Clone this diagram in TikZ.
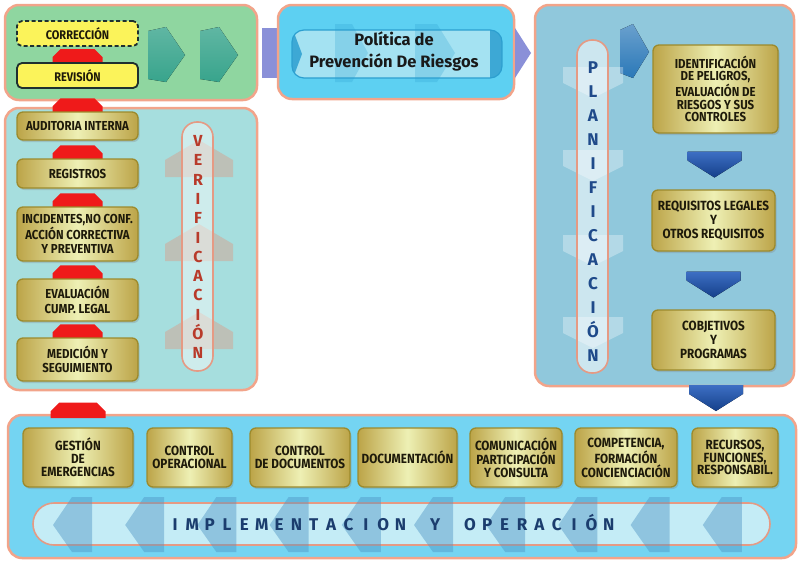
\documentclass[tikz,border=0pt]{standalone}
\usepackage{fontspec}
\setmainfont{Fira Sans}
\newfontfamily\cf[FakeStretch=0.88]{Fira Sans}
\usetikzlibrary{shadows,calc}
\pgfdeclarelayer{back}
\pgfdeclarelayer{arrows}
\pgfsetlayers{back,arrows,main}
\definecolor{pborder}{HTML}{F2A48A}
\definecolor{greenp}{HTML}{8FD6A0}
\definecolor{verp}{HTML}{A6DEDE}
\definecolor{plap}{HTML}{90C8DC}
\definecolor{polp}{HTML}{5DD0F2}
\definecolor{polpill}{HTML}{A4E2F2}
\definecolor{polin}{HTML}{2C9FD0}
\definecolor{impp}{HTML}{74D4F2}
\definecolor{imppill}{HTML}{C4ECF6}
\definecolor{purp}{HTML}{8A90D8}
\definecolor{gold1}{HTML}{BCA448}
\definecolor{gold2}{HTML}{EEF0B4}
\definecolor{goldedge}{HTML}{9C8A2C}
\definecolor{boxtext}{HTML}{1E1A0A}
\definecolor{yel}{HTML}{FBF35A}
\definecolor{yeledge}{HTML}{1F2F2F}
\definecolor{redarr}{HTML}{EF1A1A}
\definecolor{tealc}{HTML}{38A48C}
\definecolor{bluetop}{HTML}{3D6FC4}
\definecolor{bluebot}{HTML}{15408A}
\definecolor{planarr}{HTML}{2A78B8}
\definecolor{fadered}{HTML}{D0A898}
\definecolor{fadesteel}{HTML}{4F94C4}
\definecolor{pillline}{HTML}{E59A84}
\definecolor{navy}{HTML}{1F4A8A}
\definecolor{impnavy}{HTML}{1B3D6E}
\definecolor{verred}{HTML}{B83A2A}
\tikzset{
  panel/.style={draw=pborder, line width=2.5pt, rounded corners=14pt},
  pillbox/.style={draw=pillline, line width=1.6pt, rounded corners=15pt},
  wh/.style 2 args={minimum width=#1pt, minimum height=#2pt},
  goldbox/.style={draw=goldedge, line width=1.3pt, rounded corners=6pt,
    left color=gold1, right color=gold1, middle color=gold2,
    drop shadow={opacity=0.3, shadow xshift=1.5pt, shadow yshift=-2pt},
    align=center, text=boxtext, inner sep=0pt,
    font=\cf\bfseries\fontsize{13}{14.5}\selectfont},
  lowbox/.style={goldbox, font=\cf\bfseries\fontsize{13.3}{12.8}\selectfont},
  yelbox/.style={draw=yeledge, line width=1.8pt, rounded corners=5pt, fill=yel,
    align=center, text=boxtext, inner sep=1pt,
    font=\cf\bfseries\fontsize{12.5}{13}\selectfont},
  plet/.style={text=navy, anchor=base, font=\bfseries\fontsize{17}{17}\selectfont, inner sep=0pt},
  vlet/.style={text=verred, anchor=base, font=\bfseries\fontsize{16}{16}\selectfont, inner sep=0pt},
  ilet/.style={text=impnavy, anchor=base, font=\bfseries\fontsize{17}{17}\selectfont, inner sep=0pt},
  pics/redup/.style={code={\fill[redarr] (-25,0) -- (-25,-6) -- (-17,-14) -- (17,-14) -- (25,-6) -- (25,0) -- cycle;}},
  pics/bluedown/.style={code={\fill[top color=bluetop, bottom color=bluebot] (-27,-13) -- (27,-13) -- (27,-4) -- (0,13) -- (-27,-4) -- cycle;}},
}
\begin{document}
\begin{tikzpicture}[x=1pt,y=-1pt]
\useasboundingbox (0,0) rectangle (800,565);
% ---------------- panels
\begin{pgfonlayer}{back}
\path[panel, fill=greenp] (5,5) rectangle (257,100);
\path[panel, fill=verp] (5,108) rectangle (257,390);
\fill[purp] (262,28) rectangle (284,78);
\path[panel, fill=polp] (278,5) rectangle (514,99);
\fill[purp] (515,28) -- (531,53) -- (515,78) -- cycle;
\path[panel, fill=plap] (535,5) rectangle (794,386);
\path[panel, fill=impp] (8,415) rectangle (796,558);
\end{pgfonlayer}

% ---------------- green panel chevrons
\fill[top color=tealc!80!white, bottom color=tealc] (148,31) -- (166,27) -- (185,55) -- (166,82) -- (148,79) -- cycle;
\fill[top color=tealc!80!white, bottom color=tealc] (200,31) -- (219,27) -- (238,55) -- (219,82) -- (200,79) -- cycle;

% ---------------- policy
\draw[line width=1.2pt, draw=polin, fill=polpill, rounded corners=12pt] (292,30) rectangle (502,78);
\begin{scope}
  \clip[rounded corners=12pt] (292,30) rectangle (502,78);
  \fill[polin, opacity=0.85] (490,30) rectangle (502,78);
  \fill[polin, opacity=0.85] (284,30) -- (293,30) -- (302,54) -- (293,78) -- (284,78) -- cycle;
\end{scope}
\fill[polin, opacity=0.25] (335,24) -- (352,24) -- (368,53) -- (352,82) -- (335,82) -- cycle;
\fill[polin, opacity=0.25] (415,24) -- (437,24) -- (455,53) -- (437,82) -- (415,82) -- cycle;
\node[text=black!90, align=center, font=\bfseries\fontsize{16.5}{22}\selectfont] (pol) at (394,51.5) {Política de\\Prevención De Riesgos};

% ---------------- planning decorations
\fill[top color=planarr!70!white, bottom color=planarr] (620,30) -- (633,24) -- (649,52) -- (633,78) -- (620,73) -- cycle;
\foreach \y in {67,150,235,317}
  \fill[white, opacity=0.32] (563,\y) -- (623,\y) -- (623,{\y+16}) -- (593,{\y+31}) -- (563,{\y+16}) -- cycle;
\path[pillbox, fill=white, fill opacity=0.55] (577,40) rectangle (608,373);
\foreach \ch [count=\i from 0] in {P,L,A,N,I,F,I,C,A,C,I,Ó,N}
  \node[plet] (pl\i) at (593,{73+\i*24}) {\ch};

% ---------------- verification decorations
\foreach \y in {140,224,312}
  \fill[fadered, opacity=0.55] (165,{\y+20}) -- (199,\y) -- (233,{\y+20}) -- (233,{\y+37}) -- (165,{\y+37}) -- cycle;
\path[pillbox, fill=white, fill opacity=0.45] (182,122) rectangle (213,371);
\foreach \ch [count=\i from 0] in {V,E,R,I,F,I,C,A,C,I,Ó,N}
  \node[vlet] (vl\i) at (198,{146.5+\i*19.3}) {\ch};

% ---------------- implementation decorations
\path[pillbox, rounded corners=21pt, fill=imppill] (33,503) rectangle (770,545);
\foreach \i in {0,...,9}
  \fill[fadesteel, opacity=0.45] ({53+\i*72.2},525) -- ({72+\i*72.2},497) -- ({92+\i*72.2},497) -- ({92+\i*72.2},552) -- ({72+\i*72.2},552) -- cycle;
\foreach \ch [count=\i from 0] in {I,M,P,L,E,M,E,N,T,A,C,I,O,N}
  \node[ilet] (ia\i) at ({175+\i*17.35},530) {\ch};
\node[ilet] (ib) at ({175+15*17.35},530) {Y};
\foreach \ch [count=\i from 17] in {O,P,E,R,A,C,I,Ó,N}
  \node[ilet] (ic\i) at ({175+\i*17.35},530) {\ch};

% ---------------- boxes: correction / review
\node[yelbox, wh={121}{25}] (rev) at (77.5,75.5) {REVISIÓN};
\node[yelbox, wh={121}{25}, dash pattern=on 4pt off 2.5pt] (cor) at (77.5,33.5) {CORRECCIÓN};

% ---------------- verification boxes
\node[goldbox, wh={121}{28}] (aud) at (77.5,126) {AUDITORIA INTERNA};
\node[goldbox, wh={121}{29}] (reg) at (77.5,173.5) {REGISTROS};
\node[goldbox, wh={121}{54}] (inc) at (77.5,234) {INCIDENTES,NO CONF.\\ACCIÓN CORRECTIVA\\Y PREVENTIVA};
\node[goldbox, wh={121}{42}] (eva) at (77.5,300) {EVALUACIÓN\\CUMP. LEGAL};
\node[goldbox, wh={121}{43}] (med) at (77.5,359.5) {MEDICIÓN Y\\SEGUIMIENTO};

% ---------------- planning boxes
\node[goldbox, wh={125}{88}, font=\cf\bfseries\fontsize{13}{12.6}\selectfont] (ide) at (715.5,89) {IDENTIFICACIÓN\\DE PELIGROS,\\EVALUACIÓN DE\\RIESGOS Y SUS\\CONTROLES};
\node[goldbox, wh={123}{61}, font=\cf\bfseries\fontsize{13.3}{14}\selectfont] (req) at (713.5,220.5) {REQUISITOS LEGALES\\Y\\OTROS REQUISITOS};
\node[goldbox, wh={123}{60}, font=\cf\bfseries\fontsize{13.3}{14}\selectfont] (obj) at (713.5,340) {COBJETIVOS\\Y\\PROGRAMAS};

% ---------------- implementation boxes
\node[lowbox, wh={110}{59}] (ges) at (78,457.5) {GESTIÓN\\DE\\EMERGENCIAS};
\node[lowbox, wh={85}{59}]  (cop) at (189.5,457.5) {CONTROL\\OPERACIONAL};
\node[lowbox, wh={100}{59}] (cdo) at (300,457.5) {CONTROL\\DE DOCUMENTOS};
\node[lowbox, wh={99}{59}]  (doc) at (407.5,457.5) {DOCUMENTACIÓN};
\node[lowbox, wh={92}{59}]  (com) at (516,457.5) {COMUNICACIÓN\\PARTICIPACIÓN\\Y CONSULTA};
\node[lowbox, wh={102}{59}] (cmp) at (626,457.5) {COMPETENCIA,\\FORMACIÓN\\CONCIENCIACIÓN};
\node[lowbox, wh={86}{59}]  (rec) at (735,457.5) {RECURSOS,\\FUNCIONES,\\RESPONSABIL.};

% ---------------- red arrows (upwards, between boxes), behind the boxes
\begin{pgfonlayer}{arrows}
\pic at ([yshift=-1pt]rev.north) {redup};
\pic at ([yshift=-1pt]aud.north) {redup};
\pic at ([yshift=-1pt]reg.north) {redup};
\pic at ([yshift=-1pt]inc.north) {redup};
\pic at ([yshift=-1pt]eva.north) {redup};
\pic at ([yshift=-1pt]med.north) {redup};
\pic[scale=1.1] at (ges.north |- 0,418) {redup};
% ---------------- blue arrows (downwards)
\pic at ($(ide.south)!0.5!(req.north)+(0,3)$) {bluedown};
\pic at ($(req.south)!0.5!(obj.north)+(0,4)$) {bluedown};
\pic at (716,398) {bluedown};
\end{pgfonlayer}
\end{tikzpicture}
\end{document}
